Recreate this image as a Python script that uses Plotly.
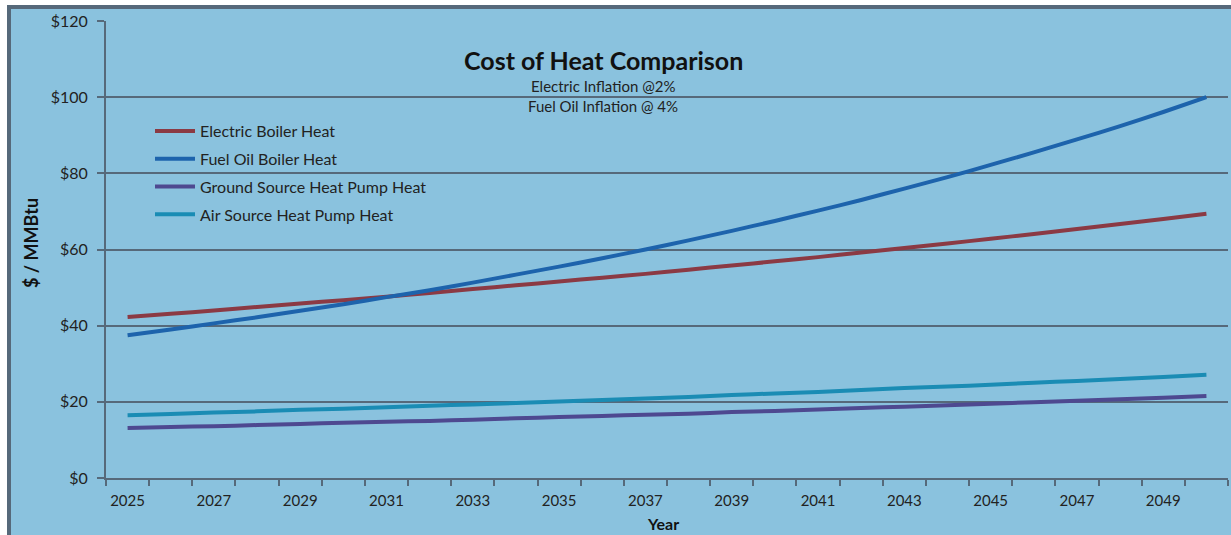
import plotly.graph_objects as go

years = list(range(2025, 2051))
electric_boiler = [42.3, 43.1, 44.0, 44.9, 45.8, 46.7, 47.6, 48.6, 49.6, 50.6, 51.6, 52.6, 53.6,
                   54.7, 55.8, 56.9, 58.0, 59.2, 60.4, 61.6, 62.8, 64.1, 65.4, 66.7, 68.0, 69.4]
fuel_oil_boiler = [37.5, 39.0, 40.6, 42.2, 43.9, 45.6, 47.5, 49.3, 51.3, 53.4, 55.5, 57.7, 60.0,
                   62.4, 64.9, 67.5, 70.2, 73.0, 76.0, 79.0, 82.2, 85.5, 88.9, 92.4, 96.1, 100.0]
ground_source_hp = [13.1, 13.4, 13.6, 13.9, 14.2, 14.5, 14.8, 15.0, 15.3, 15.7, 16.0, 16.3, 16.6,
                    16.9, 17.3, 17.6, 18.0, 18.4, 18.7, 19.1, 19.5, 19.9, 20.3, 20.7, 21.1, 21.5]
air_source_hp = [16.5, 16.8, 17.2, 17.5, 17.9, 18.2, 18.6, 19.0, 19.3, 19.7, 20.1, 20.5, 20.9,
                 21.3, 21.8, 22.2, 22.6, 23.1, 23.6, 24.0, 24.5, 25.0, 25.5, 26.0, 26.5, 27.1]
series_names = ["Electric Boiler Heat", "Fuel Oil Boiler Heat",
                "Ground Source Heat Pump Heat", "Air Source Heat Pump Heat"]
colors = ["#8B3A44", "#1D63AC", "#4E4990", "#1A8CB4"]
y_ticks = [0, 20, 40, 60, 80, 100, 120]
y_tick_labels = ["$0", "$20", "$40", "$60", "$80", "$100", "$120"]
x_label_years = list(range(2025, 2050, 2))

W, H = 1231, 535
L, R, T, B = 106, 3, 21, 57
pw, ph = W - L - R, H - T - B
BG = "#8AC2DE"
DARK = "#56697A"
FONT = "Lato"

def px_x(p):
    return (p - L) / pw

def px_y(p):
    return (H - B - p) / ph

fig = go.Figure()
for name, vals, c in zip(series_names,
                         [electric_boiler, fuel_oil_boiler, ground_source_hp, air_source_hp],
                         colors):
    fig.add_trace(go.Scatter(x=years, y=vals, mode="lines", name=name,
                             legendgroup=name,
                             line=dict(color=c, width=4, shape="spline", smoothing=0.4)))

fig.add_shape(type="rect", xref="paper", yref="paper",
              x0=px_x(9), x1=px_x(W + 20), y0=px_y(H + 20), y1=px_y(7),
              line=dict(color=DARK, width=4), fillcolor=BG, layer="below")

def label(text, x, y, size, angle=0, color="#222222"):
    fig.add_annotation(text=text, xref="paper", yref="paper",
                       x=px_x(x), y=px_y(y), xanchor="center", yanchor="middle",
                       showarrow=False, textangle=angle,
                       font=dict(family=FONT, size=size, color=color))

label("<b>Cost of Heat Comparison</b>", 603, 60, 25, color="#111111")
label("Electric Inflation @2%", 603, 86, 15)
label("Fuel Oil Inflation @ 4%", 603, 106, 15)
label("<b>Year</b>", 663, 523, 16, color="#111111")
label("<b>$ / MMBtu</b>", 31, 243, 18, angle=-90, color="#111111")

fig.update_layout(
    width=W, height=H,
    margin=dict(l=L, r=R, t=T, b=B),
    paper_bgcolor="white", plot_bgcolor=BG,
    font=dict(family=FONT, size=13, color="#222222"),
    showlegend=True,
    legend=dict(x=px_x(150), y=px_y(114), xanchor="left", yanchor="top",
                bgcolor="rgba(0,0,0,0)", font=dict(family=FONT, size=16, color="#222222"),
                tracegroupgap=4, itemwidth=40),
    xaxis=dict(range=[2024.5, 2050.5], tickmode="array", tickvals=x_label_years,
               ticktext=[str(y) for y in x_label_years],
               ticks="outside", ticklen=8, tickcolor="rgba(0,0,0,0)",
               showgrid=False, zeroline=False, showline=True, linecolor=DARK, linewidth=2,
               tickfont=dict(family=FONT, size=15, color="#222222"),
               minor=dict(tick0=2024.5, dtick=1, ticks="outside", ticklen=6,
                          tickcolor=DARK, tickwidth=1.5, showgrid=False)),
    yaxis=dict(range=[0, 120], tickmode="array", tickvals=y_ticks, ticktext=y_tick_labels,
               ticks="outside", ticklen=7, tickcolor=DARK, tickwidth=1.5,
               ticklabelstandoff=6,
               showgrid=True, gridcolor=DARK, gridwidth=1.5, zeroline=False,
               showline=True, linecolor=DARK, linewidth=2,
               tickfont=dict(family=FONT, size=16, color="#222222")),
)

fig.write_html("out.html", config={"displayModeBar": False},
               post_script="document.body.style.margin='0px';document.body.style.overflow='hidden';")
